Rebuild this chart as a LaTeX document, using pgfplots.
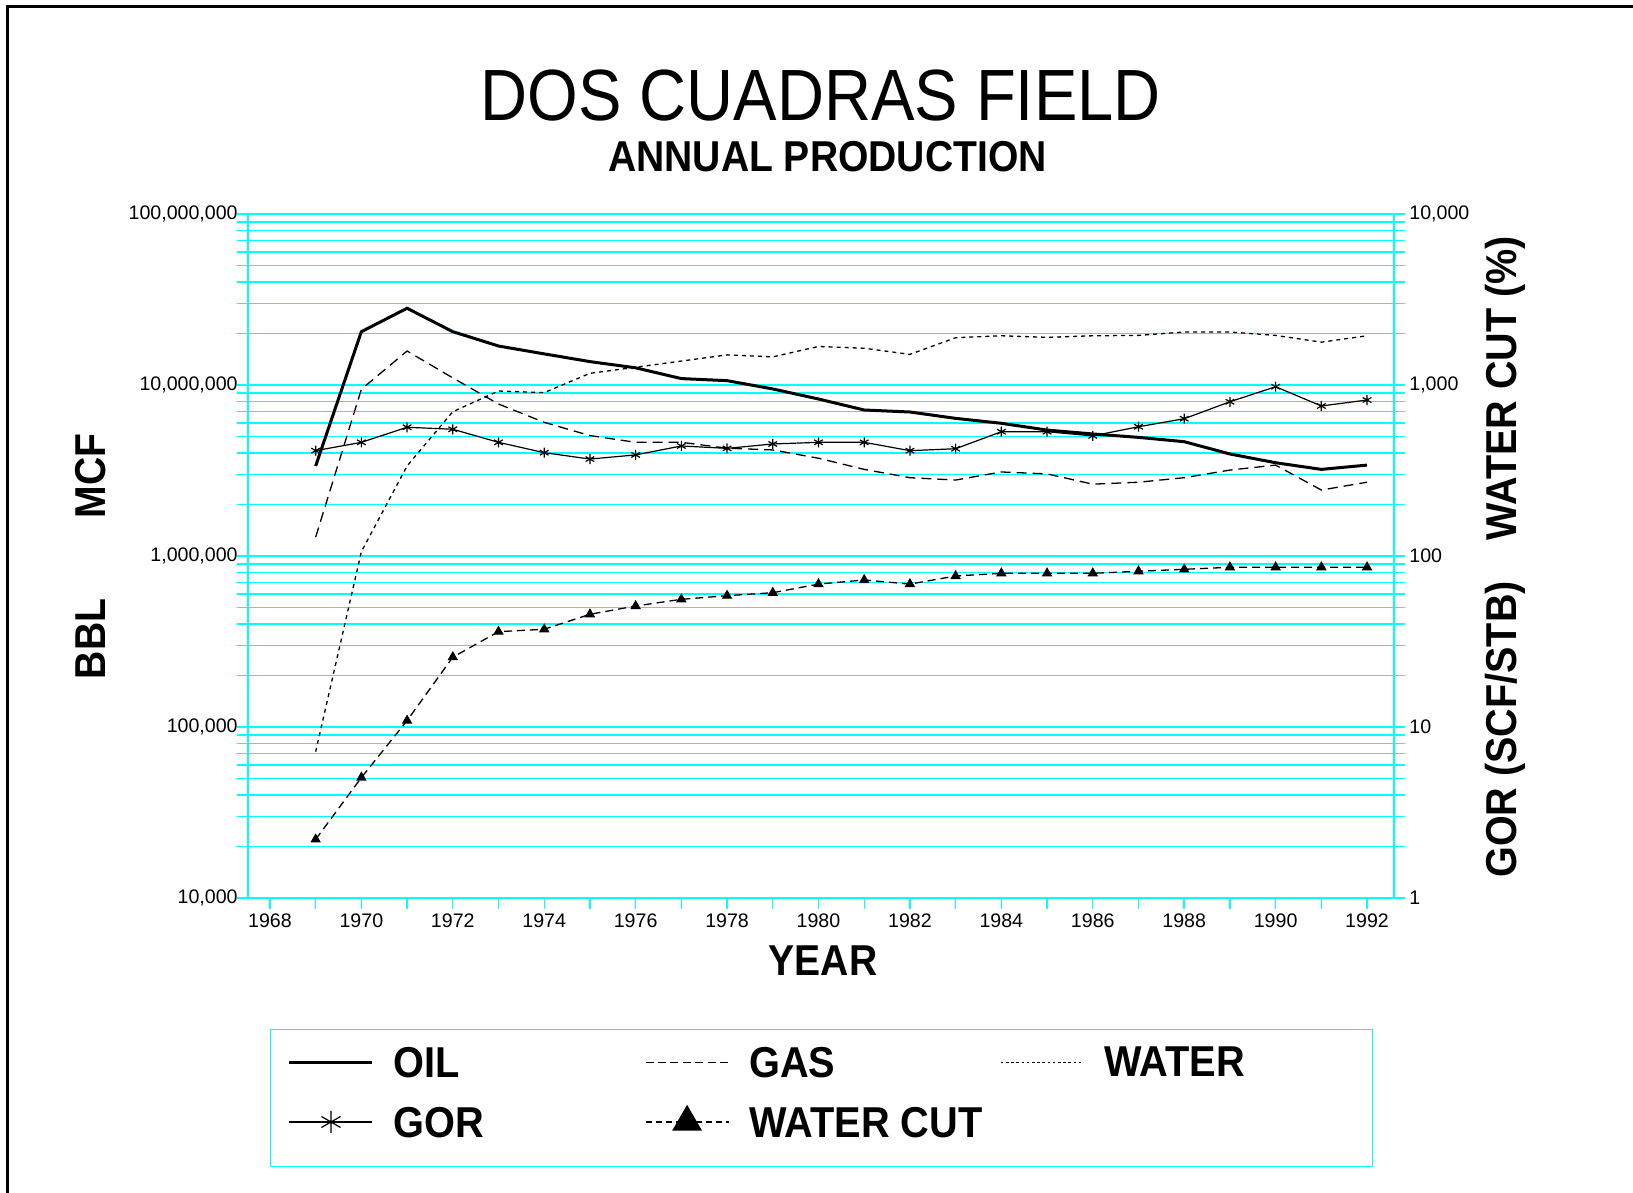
\documentclass[border=0pt]{standalone}
\usepackage{graphicx}
\usepackage{pgfplots}
\usepackage{pgfplotstable}
\pgfplotsset{compat=1.18}
\usepackage{fontspec}
\setmainfont{Liberation Sans}
\definecolor{gridcyan}{RGB}{0,255,255}
\newcommand{\lbl}[2][0.905]{\scalebox{#1}[1]{\fontsize{21.6}{24}\selectfont\bfseries #2}}
\newcommand{\leg}[1]{\makebox[125.5pt][l]{\scalebox{0.92}[1]{\fontsize{21.6}{24}\selectfont\bfseries #1}}}

\pgfplotstableread{
year oil gas water gor wc
1969 3.36e6 1.29e6 7.17e4 413 2.2
1970 2.05e7 9.44e6 1.06e6 462 5.06
1971 2.81e7 1.58e7 3.36e6 566 10.9
1972 2.05e7 1.10e7 6.98e6 551 25.6
1973 1.69e7 7.74e6 9.22e6 462 36.1
1974 1.52e7 6.05e6 9.02e6 402 37.3
1975 1.37e7 5.06e6 1.17e7 369 45.6
1976 1.26e7 4.62e6 1.27e7 390 51.0
1977 1.09e7 4.62e6 1.38e7 440 55.8
1978 1.06e7 4.27e6 1.50e7 426 58.6
1979 9.48e6 4.17e6 1.46e7 452 61.0
1980 8.28e6 3.73e6 1.68e7 462 68.5
1981 7.14e6 3.21e6 1.64e7 462 72.4
1982 6.95e6 2.87e6 1.51e7 413 68.5
1983 6.38e6 2.78e6 1.89e7 424 76.4
1984 5.97e6 3.10e6 1.94e7 533 79.2
1985 5.45e6 3.02e6 1.90e7 533 79.2
1986 5.17e6 2.63e6 1.94e7 504 79.2
1987 4.94e6 2.70e6 1.95e7 570 81.4
1988 4.66e6 2.87e6 2.04e7 635 83.6
1989 3.95e6 3.18e6 2.04e7 798 85.9
1990 3.51e6 3.40e6 1.95e7 977 85.9
1991 3.21e6 2.43e6 1.78e7 754 85.9
1992 3.40e6 2.70e6 1.94e7 817 85.9
}\prod

\begin{document}
\begin{tikzpicture}[x=0.5pt,y=0.5pt]
\path[use as bounding box] (0,0) rectangle (1633,1193);
\draw[line width=1.5pt] (7,-20) -- (7,1186) -- (1660,1186);

\node[inner sep=0pt] at (820.7,1097) {\scalebox{0.897}[1]{\fontsize{36.3}{40}\selectfont DOS CUADRAS FIELD}};
\node[inner sep=0pt] at (827.5,1036) {\lbl{ANNUAL PRODUCTION}};
\node[inner sep=0pt] at (823,232) {\lbl{YEAR}};
\node[inner sep=0pt,rotate=90] at (90.6,717) {\lbl{MCF}};
\node[inner sep=0pt,rotate=90] at (90.6,554) {\lbl{BBL}};
\node[inner sep=0pt,rotate=90] at (1505,804.5) {\lbl[0.915]{WATER CUT (\%)}};
\node[inner sep=0pt,rotate=90] at (1505,463.5) {\lbl[0.915]{GOR (SCF/STB)}};

\begin{axis}[
  at={(124pt,147.5pt)}, anchor=south west,
  width=573pt, height=342pt, scale only axis,
  xmin=1967.52, xmax=1992.59,
  ymode=log, ymin=1e4, ymax=1e8,
  axis line style={gridcyan, line width=0.8pt},
  tick align=outside,
  major tick length=5.5pt, minor tick length=5.5pt,
  every tick/.style={gridcyan, line width=0.7pt},
  xtick={1968,1970,1972,1974,1976,1978,1980,1982,1984,1986,1988,1990,1992},
  xticklabels={1968,1970,1972,1974,1976,1978,1980,1982,1984,1986,1988,1990,1992},
  minor xtick={1969,1971,1973,1975,1977,1979,1981,1983,1985,1987,1989,1991},
  xtick pos=bottom, ytick pos=left,
  ytick={1e4,1e5,1e6,1e7,1e8},
  yticklabels={{10,000},{100,000},{1,000,000},{10,000,000},{100,000,000}},
  ymajorgrids, yminorgrids,
  major grid style={gridcyan, line width=0.7pt},
  minor grid style={gridcyan, line width=0.7pt},
  tick label style={font=\fontsize{9.8}{11}\selectfont},
  yticklabel style={inner xsep=0pt, xshift=0.5pt},
  xticklabel style={inner ysep=2pt},
]
\addplot[black, line width=1.5pt, no markers] table[x=year,y=oil] {\prod};
\addplot[black, line width=0.65pt, no markers, dash pattern=on 5pt off 3pt] table[x=year,y=gas] {\prod};
\addplot[black, line width=0.65pt, no markers, dash pattern=on 2pt off 2pt] table[x=year,y=water] {\prod};
\end{axis}

\begin{axis}[
  at={(124pt,147.5pt)}, anchor=south west,
  width=573pt, height=342pt, scale only axis,
  xmin=1967.52, xmax=1992.59,
  ymode=log, ymin=1, ymax=1e4,
  axis x line=none, axis y line*=right,
  axis line style={gridcyan, line width=0.8pt},
  tick align=outside,
  major tick length=5.5pt, minor tick length=5.5pt,
  every tick/.style={gridcyan, line width=0.7pt},
  ytick={1,10,100,1000,10000},
  yticklabels={1,10,100,{1,000},{10,000}},
  tick label style={font=\fontsize{9.8}{11}\selectfont},
  yticklabel style={inner xsep=2pt},
  legend image code/.code={\draw[mark repeat=2,mark phase=2,#1] plot coordinates {(0pt,0pt) (20.75pt,0pt) (41.5pt,0pt)};},
  legend columns=3,
  legend cell align=left,
  legend style={at={(0.01963,-0.192)}, anchor=north west, draw=gridcyan, line width=0.5pt,
    inner xsep=8.5pt, inner ysep=8.6pt, row sep=14.4pt,
    nodes={inner sep=0pt, text depth=0pt},
    /tikz/every odd column/.append style={column sep=10pt},
    /tikz/every even column/.append style={column sep=0pt}},
]
\addlegendimage{black, line width=1.5pt}
\addlegendentry{\leg{OIL}}
\addlegendimage{black, line width=0.6pt, dash pattern=on 4pt off 2.2pt}
\addlegendentry{\leg{GAS}}
\addlegendimage{black, line width=0.6pt, dash pattern=on 1.3pt off 1.3pt}
\addlegendentry{\leg{WATER}}
\addlegendimage{legend image code/.code={\draw[black, line width=0.6pt, mark=asterisk, mark size=5.5pt, mark options={solid, line width=0.6pt}, mark repeat=2, mark phase=2] plot coordinates {(0pt,0pt) (20.75pt,0pt) (41.5pt,0pt)}; \path (0pt,-13.3pt);}}
\addlegendentry{\leg{GOR}}
\addlegendimage{legend image code/.code={\draw[black, line width=0.6pt, dash pattern=on 3pt off 2pt, mark=triangle*, mark size=8pt, mark options={solid}, mark repeat=2, mark phase=2] plot coordinates {(0pt,0pt) (20.75pt,0pt) (41.5pt,0pt)}; \path (0pt,-13.3pt);}}
\addlegendentry{\leg{WATER CUT}}
\addplot[forget plot, black, line width=0.6pt, mark=asterisk, mark size=2.5pt, mark options={solid, line width=0.6pt}] table[x=year,y=gor] {\prod};
\addplot[forget plot, black, line width=0.65pt, dash pattern=on 4pt off 2.5pt, mark=triangle*, mark size=2.4pt, mark options={solid}] table[x=year,y=wc] {\prod};
\end{axis}
\end{tikzpicture}
\end{document}
